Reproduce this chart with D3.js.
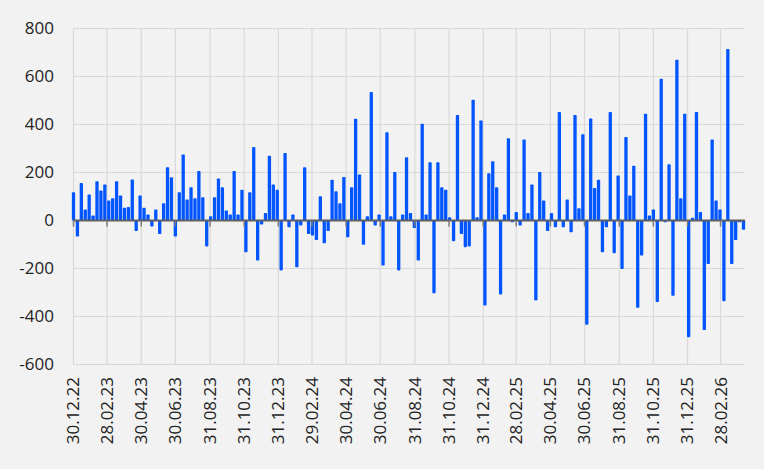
<!DOCTYPE html>
<html>
<head>
<meta charset="utf-8">
<script src="https://cdn.jsdelivr.net/npm/d3@7"></script>
<style>
  body { margin: 0; background: #f2f2f2; }
</style>
</head>
<body>
<div class="container"></div>
<script>
// weekly values, first week is 30.12.22
var firstWeek = "2022-12-30";
var values = [118, -67, 156, 46, 108, 21, 164, 125, 150, 83,
              93, 164, 104, 53, 56, 171, -44, 104, 53, 25,
              -25, 46, -56, 72, 222, 180, -67, 118, 275, 88,
              139, 93, 206, 97, -108, 18, 97, 175, 139, 42,
              25, 206, 25, 128, -132, 118, 306, -167, -17, 31,
              270, 150, 128, -208, 281, -28, 25, -195, -21, 222,
              -56, -63, -81, 101, -95, -44, 170, 122, 72, 181,
              -70, 139, 424, 192, -101, 18, 535, -21, 25, -188,
              368, 18, 202, -208, 25, 264, 31, -31, -167, 403,
              25, 243, -303, 243, 139, 128, 14, -86, 440, -56,
              -111, -108, 503, 14, 417, -354, 197, 247, 139, -308,
              25, 343, -7, 35, -21, 337, 31, 150, -333, 202,
              83, -44, 31, -28, 452, -28, 88, -49, 440, 51,
              359, -434, 425, 135, 170, -132, -28, 452, -136, 188,
              -202, 348, 104, 228, -364, -146, 445, 21, 46, -340,
              591, -7, 234, -314, 670, 93, 445, -486, 11, 452,
              35, -456, -181, 337, 83, 46, -336, 715, -181, -81,
              -7, -39];

var tickDates = ["2022-12-30", "2023-02-28", "2023-04-30", "2023-06-30", "2023-08-31",
                 "2023-10-31", "2023-12-31", "2024-02-29", "2024-04-30", "2024-06-30",
                 "2024-08-31", "2024-10-31", "2024-12-31", "2025-02-28", "2025-04-30",
                 "2025-06-30", "2025-08-31", "2025-10-31", "2025-12-31", "2026-02-28"];
var yTicks = [-600, -400, -200, 0, 200, 400, 600, 800];

var W = 764, H = 469;
var parse = d3.utcParse("%Y-%m-%d");
var fmt = d3.utcFormat("%d.%m.%y");
var font = "'Open Sans', sans-serif";

var start = parse(firstWeek);
var data = values.map(function (v, i) {
    return {date: d3.utcDay.offset(start, i * 7), value: v};
});

//Makes the stage
function makeStage(w, h) {
    var stage = d3.select(".container")
      .insert("svg")
      .attr("width", w)
      .attr("height", h)
      .style("display", "block")
      .style("background-color", "#f2f2f2");
    return stage;
}

var svg = makeStage(W, H);

var x = d3.scaleUtc()
    .domain([start, data[data.length - 1].date])
    .range([73.5, 743.5]);
var y = d3.scaleLinear()
    .domain([-600, 800])
    .range([364.5, 28.5]);

// grid
svg.append("g").selectAll("line.h")
  .data(yTicks).enter().append("line")
  .attr("x1", 73).attr("x2", 745)
  .attr("y1", function (d) { return y(d); })
  .attr("y2", function (d) { return y(d); })
  .attr("stroke", "#d9d9d9").attr("stroke-width", 1.2);

svg.append("g").selectAll("line.v")
  .data(tickDates).enter().append("line")
  .attr("x1", function (d) { return x(parse(d)); })
  .attr("x2", function (d) { return x(parse(d)); })
  .attr("y1", y(800)).attr("y2", y(-600))
  .attr("stroke", "#d9d9d9").attr("stroke-width", 1.2);

// bars
svg.append("g").selectAll("rect")
  .data(data).enter().append("rect")
  .attr("x", function (d) { return x(d.date) - 1.65; })
  .attr("width", 3.3)
  .attr("y", function (d) { return y(Math.max(0, d.value)); })
  .attr("height", function (d) { return Math.abs(y(d.value) - y(0)); })
  .attr("rx", 0.8)
  .attr("fill", "#0055ff");

// zero line and ticks
svg.append("line")
  .attr("x1", 73).attr("x2", 745)
  .attr("y1", y(0)).attr("y2", y(0))
  .attr("stroke", "#5f5f5f").attr("stroke-width", 2);

svg.append("g").selectAll("line")
  .data(tickDates).enter().append("line")
  .attr("x1", function (d) { return x(parse(d)); })
  .attr("x2", function (d) { return x(parse(d)); })
  .attr("y1", y(0)).attr("y2", y(0) + 6)
  .attr("stroke", "#7a7a7a").attr("stroke-width", 1.5);

// y labels
svg.append("g").selectAll("text")
  .data(yTicks).enter().append("text")
  .text(function (d) { return d; })
  .attr("x", 54)
  .attr("y", function (d) { return y(d); })
  .attr("dy", "0.35em")
  .attr("text-anchor", "end")
  .attr("font-family", font)
  .attr("font-size", 17)
  .attr("fill", "#222");

// x labels
svg.append("g").selectAll("text")
  .data(tickDates).enter().append("text")
  .text(function (d) { return fmt(parse(d)); })
  .attr("transform", function (d) { return "translate(" + x(parse(d)) + ",377) rotate(-90)"; })
  .attr("dy", "0.35em")
  .attr("text-anchor", "end")
  .attr("font-family", font)
  .attr("font-size", 17)
  .attr("fill", "#222");
</script>
</body>
</html>
